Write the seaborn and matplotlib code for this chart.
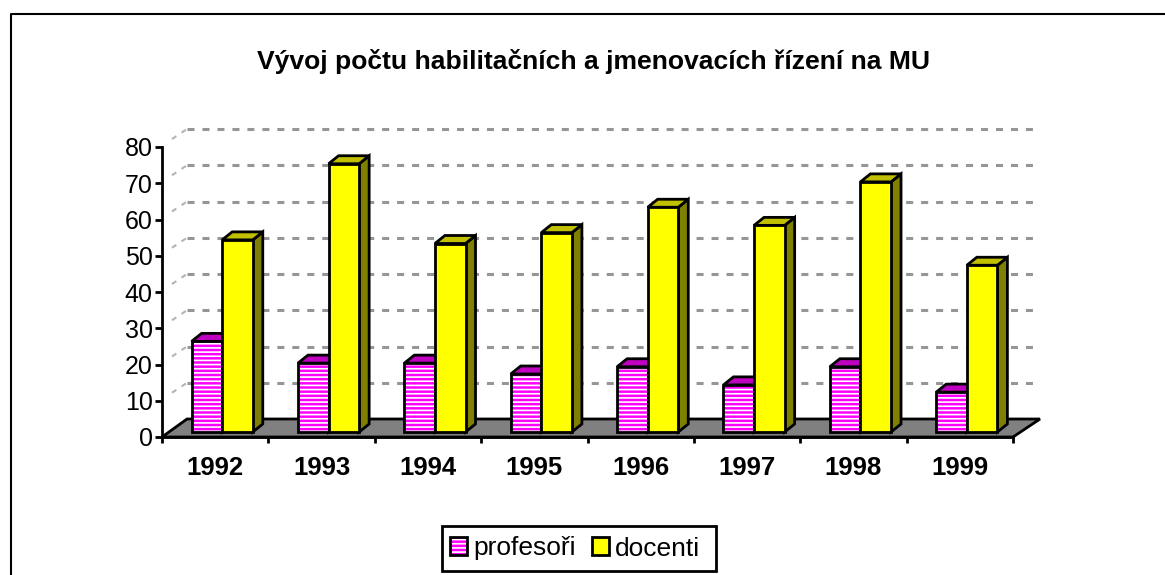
import matplotlib
matplotlib.use("Agg")
import matplotlib.pyplot as plt
from matplotlib.colors import to_rgba
from matplotlib.patches import Polygon, Patch, Rectangle
from matplotlib.transforms import IdentityTransform, Affine2D
import pandas as pd
import seaborn as sns

years = ["1992", "1993", "1994", "1995", "1996", "1997", "1998", "1999"]
profesori = [25, 19, 19, 16, 18, 13, 18, 11]
docenti = [53, 74, 52, 55, 62, 57, 69, 46]
series_names = ["profesoři", "docenti"]
title = "Vývoj počtu habilitačních a jmenovacích řízení na MU"

W, H = 1165, 575
sns.set_theme(style="white")
plt.rcParams["font.family"] = ["Liberation Sans", "DejaVu Sans"]
plt.rcParams["hatch.linewidth"] = 1.2

df = pd.DataFrame({
    "rok": years * 2,
    "serie": [series_names[0]] * 8 + [series_names[1]] * 8,
    "pocet": profesori + docenti,
})

fig = plt.figure(figsize=(W / 100, H / 100), dpi=100, facecolor="white")
L, R, T, B = 162, 1013, 147, 437
ax = fig.add_axes([L / W, 1 - B / H, (R - L) / W, (B - T) / H])
ax.patch.set_alpha(0)
ax.set_zorder(2)

sns.barplot(data=df, x="rok", y="pocet", hue="serie", order=years,
            hue_order=series_names, palette=["#FF00FF", "#FFFF00"],
            width=0.575, gap=0, dodge=True, saturation=1, legend=False,
            edgecolor="black", linewidth=2, ax=ax)
ax.set_xlim(-0.5, 7.5)
ax.set_ylim(0, 80)
ax.set_xlabel("")
ax.set_ylabel("")
ax.set_yticks(range(0, 81, 10))
ax.tick_params(axis="y", labelsize=18, length=5, width=2, color="black", left=True, pad=1.8, labelcolor="black")
ax.tick_params(axis="x", which="major", length=0, pad=13.7, labelcolor="black")
ax.set_xticks([i - 0.5 for i in range(9)], minor=True)
ax.tick_params(axis="x", which="minor", length=4, width=2, color="black", bottom=True)
for lab in ax.get_xticklabels():
    lab.set_fontsize(18.5)
    lab.set_fontweight("bold")
sns.despine(ax=ax)
for s in ("left", "bottom"):
    ax.spines[s].set_linewidth(2)
    ax.spines[s].set_color("black")
    ax.spines[s].set_zorder(6)

id_tr = IdentityTransform()
# pixel offsets (matplotlib display space: y up)
wall_dx, wall_dy = 25, 18
bar_dx, bar_dy = 7, 5
dep_dx, dep_dy = 10, 8

def disp(x, y):
    return ax.transData.transform((x, y))

# floor, wall guides, back grid drawn from the value axis
x0, y0 = disp(-0.5, 0)
x1, _ = disp(7.5, 0)
ax.add_patch(Polygon([(x0, y0), (x1, y0), (x1 + wall_dx + 2, y0 + wall_dy), (x0 + wall_dx, y0 + wall_dy)],
                     closed=True, transform=id_tr, facecolor="#808080", edgecolor="black",
                     linewidth=2, zorder=0.5, clip_on=False))
for v in range(10, 81, 10):
    xa, ya = disp(-0.5, v)
    ax.plot([xa + wall_dx, x1 + wall_dx - 4], [ya + wall_dy] * 2, transform=id_tr, color="#969696",
            lw=2.2, dashes=(2.3, 2.6), zorder=0.4, clip_on=False)
    ax.plot([xa + 10, xa + wall_dx], [ya + 8, ya + wall_dy], transform=id_tr, color="#b4b4b4",
            lw=1.5, dashes=(2.5, 3), zorder=0.4, clip_on=False)

# 3-D faces derived from each seaborn bar
bars = [p for p in ax.patches if isinstance(p, Rectangle)]
shift = Affine2D().translate(bar_dx, bar_dy)
for i, p in enumerate(bars):
    is_prof = i < len(years)
    z = 1.0 + p.get_x() * 0.2 + (0.0 if is_prof else 0.05)
    xa, ya = disp(p.get_x(), 0)
    xb, yb = disp(p.get_x() + p.get_width(), p.get_height())
    xa += bar_dx; xb += bar_dx; ya += bar_dy; yb += bar_dy
    top_col = "#C000C0" if is_prof else "#C0C000"
    side_col = "#800080" if is_prof else "#808000"
    ax.add_patch(Polygon([(xb, ya), (xb + dep_dx, ya + dep_dy), (xb + dep_dx, yb + dep_dy), (xb, yb)],
                         closed=True, transform=id_tr, facecolor=side_col, edgecolor="black",
                         linewidth=2, joinstyle="miter", zorder=z + 0.01, clip_on=False))
    ax.add_patch(Polygon([(xa, yb), (xb, yb), (xb + dep_dx, yb + dep_dy), (xa + dep_dx, yb + dep_dy)],
                         closed=True, transform=id_tr, facecolor=top_col, edgecolor="black",
                         linewidth=2, joinstyle="miter", zorder=z + 0.01, clip_on=False))
    p.set_transform(ax.transData + shift)
    p.set_clip_on(False)
    p.set_zorder(z + 0.02)
    if is_prof:
        p.set_hatch("----")
        p._hatch_color = to_rgba("white")

fig.text(593.5 / W, 1 - 61 / H, title, ha="center", va="center", fontsize=19.05, fontweight="bold", color="black")

# legend frame sits apart so the entries can keep the reference's off-centre spacing
fig.add_artist(Rectangle((442 / W, 1 - 571 / H), 274 / W, 45 / H, transform=fig.transFigure,
                         facecolor="white", edgecolor="black", linewidth=2))
h_prof = Patch(facecolor="#FF00FF", edgecolor="black", linewidth=2, hatch="----")
h_prof._hatch_color = to_rgba("white")
h_doc = Patch(facecolor="#FFFF00", edgecolor="black", linewidth=2)
leg = fig.legend(handles=[h_prof, h_doc], labels=series_names, ncol=2, loc="center",
                 bbox_to_anchor=(575 / W, 1 - 548.5 / H), fontsize=19, frameon=False,
                 handlelength=0.65, handleheight=0.65, handletextpad=0.25,
                 columnspacing=0.6, borderpad=0.4, labelcolor="black")

# outer chart frame: top and left edges are all that fall inside the picture
fig.add_artist(plt.Line2D([11 / W, 11 / W, 1], [0, 1 - 14 / H, 1 - 14 / H],
                          transform=fig.transFigure, color="black", lw=1.5))

fig.savefig("out.png", dpi=100, facecolor="white")
